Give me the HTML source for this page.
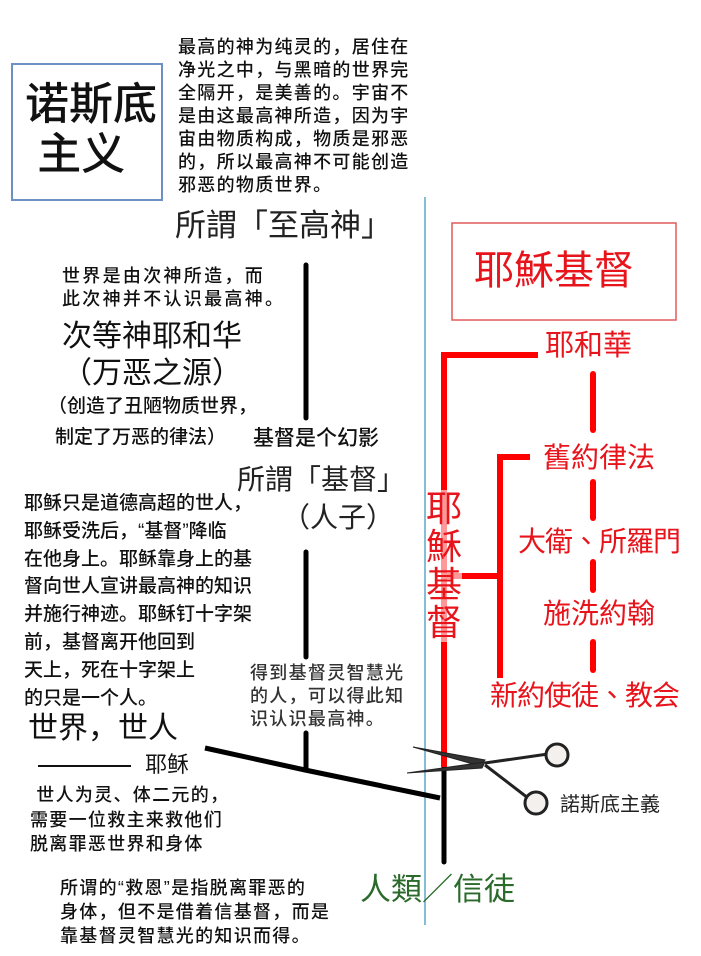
<!DOCTYPE html>
<html><head><meta charset="utf-8"><style>
body{margin:0;width:701px;height:956px;background:#fff;position:relative;overflow:hidden;font-family:"Liberation Sans","Noto Sans CJK SC",sans-serif;color:#111}
.t{position:absolute;white-space:nowrap;line-height:1}
.r{color:#e8141c;font-family:"Liberation Sans","Noto Sans CJK TC",sans-serif}
.s{font-size:18px;letter-spacing:1.3px;font-weight:500}
</style></head><body>
<svg width="701" height="956" style="position:absolute;left:0;top:0">
<line x1="425" y1="197" x2="425" y2="925" stroke="#5aa8c8" stroke-width="1.5"/>
<rect x="12" y="64" width="150" height="136" fill="none" stroke="#6d8fc4" stroke-width="2"/>
<rect x="452" y="223" width="224" height="97" fill="none" stroke="#e05a5a" stroke-width="1.5"/>
<g stroke="#000" stroke-width="5" stroke-linecap="round" fill="none">
<line x1="306" y1="265" x2="306" y2="418"/>
<line x1="306" y1="552" x2="306" y2="657"/>
<line x1="306" y1="733" x2="306" y2="770"/>
<polyline points="205,748 305,770 440,798" stroke-linecap="butt"/>
<line x1="444" y1="767" x2="444" y2="862"/>
</g>
<g stroke="#f00" stroke-width="6" fill="none">
<polyline points="538,355 444,355 444,767"/>
<polyline points="530,457 500,457 500,678"/>
<line x1="444" y1="576" x2="500" y2="576"/>
</g>
<g stroke="#f00" stroke-width="6" stroke-linecap="round">
<line x1="593" y1="374" x2="593" y2="430"/>
<line x1="593" y1="482" x2="593" y2="518"/>
<line x1="593" y1="562" x2="593" y2="590"/>
<line x1="593" y1="642" x2="593" y2="670"/>
</g>
<g stroke="#222" fill="none">
<polygon points="413,747 485,760 480,766" fill="#333" stroke-width="1"/>
<polygon points="407,773 485,762 482,768" fill="#333" stroke-width="1"/>
<line x1="485" y1="763" x2="548" y2="754" stroke-width="3"/>
<line x1="485" y1="765" x2="528" y2="798" stroke-width="3"/>
<circle cx="557" cy="755" r="11" stroke-width="3" fill="#f4f0ee"/>
<circle cx="536" cy="803" r="11" stroke-width="3" fill="#f4f0ee"/>
</g>
</svg>
<div class="t s" style="left:178px;top:36px;line-height:23px">最高的神为纯灵的，居住在<br>净光之中，与黑暗的世界完<br>全隔开，是美善的。宇宙不<br>是由这最高神所造，因为宇<br>宙由物质构成，物质是邪恶<br>的，所以最高神不可能创造<br>邪恶的物质世界。</div>
<div class="t" style="left:25px;top:80px;font-size:44px;line-height:50px;font-weight:500">诺斯底<br>&nbsp;主义</div>
<div class="t" style="left:175px;top:210px;font-size:31px;color:#222">所謂「至高神」</div>
<div class="t s" style="left:62px;top:265px;line-height:23px;letter-spacing:2.3px">世界是由次神所造，而<br>此次神并不认识最高神。</div>
<div class="t" style="left:62px;top:318px;font-size:30px;line-height:37px">次等神耶和华<br>（万恶之源）</div>
<div class="t" style="left:48px;top:397px;font-size:19px;font-weight:500">（创造了丑陋物质世界，</div>
<div class="t" style="left:55px;top:428px;font-size:19px;font-weight:500">制定了万恶的律法）</div>
<div class="t" style="left:253px;top:428px;font-size:21px;font-weight:500">基督是个幻影</div>
<div class="t" style="left:237px;top:466px;font-size:28px;color:#222">所謂「基督」</div>
<div class="t" style="left:282px;top:504px;font-size:28px;color:#222">（人子）</div>
<div class="t" style="left:24px;top:490px;font-size:19px;line-height:27.8px;font-weight:500">耶稣只是道德高超的世人，<br>耶稣受洗后，“基督”降临<br>在他身上。耶稣靠身上的基<br>督向世人宣讲最高神的知识<br>并施行神迹。耶稣钉十字架<br>前，基督离开他回到<br>天上，死在十字架上<br>的只是一个人。</div>
<div class="t s" style="left:250px;top:662px;line-height:23px;color:#333">得到基督灵智慧光<br>的人，可以得此知<br>识认识最高神。</div>
<div class="t" style="left:28px;top:714px;font-size:30px">世界，世人</div>
<div style="position:absolute;left:38px;top:765px;width:93px;height:1.5px;background:#111"></div>
<div class="t" style="left:145px;top:754px;font-size:22px">耶稣</div>
<div class="t s" style="left:30px;top:783px;line-height:24.5px">&nbsp;世人为灵、体二元的，<br>需要一位救主来救他们<br>脱离罪恶世界和身体</div>
<div class="t s" style="left:60px;top:876px;line-height:24px">所谓的“救恩”是指脱离罪恶的<br>身体，但不是借着信基督，而是<br>靠基督灵智慧光的知识而得。</div>
<div class="t" style="left:360px;top:874px;font-size:31px;color:#2a6a2a">人類／信徒</div>
<div class="t" style="left:560px;top:795px;font-size:20px;color:#222">諾斯底主義</div>
<div class="t r" style="left:474px;top:251px;font-size:40px">耶穌基督</div>
<div class="t r" style="left:545px;top:332px;font-size:29px">耶和華</div>
<div class="t r" style="left:543px;top:444px;font-size:28px">舊約律法</div>
<div class="t r" style="left:518px;top:528px;font-size:28px;letter-spacing:-1px">大衛、所羅門</div>
<div class="t r" style="left:543px;top:600px;font-size:28px">施洗約翰</div>
<div class="t r" style="left:490px;top:682px;font-size:28px;letter-spacing:-1px">新約使徒、教会</div>
<div class="t r" style="left:426px;top:490px;font-size:36px;line-height:38px;background:rgba(255,255,255,0.6)">耶<br>穌<br>基<br>督</div>
</body></html>
